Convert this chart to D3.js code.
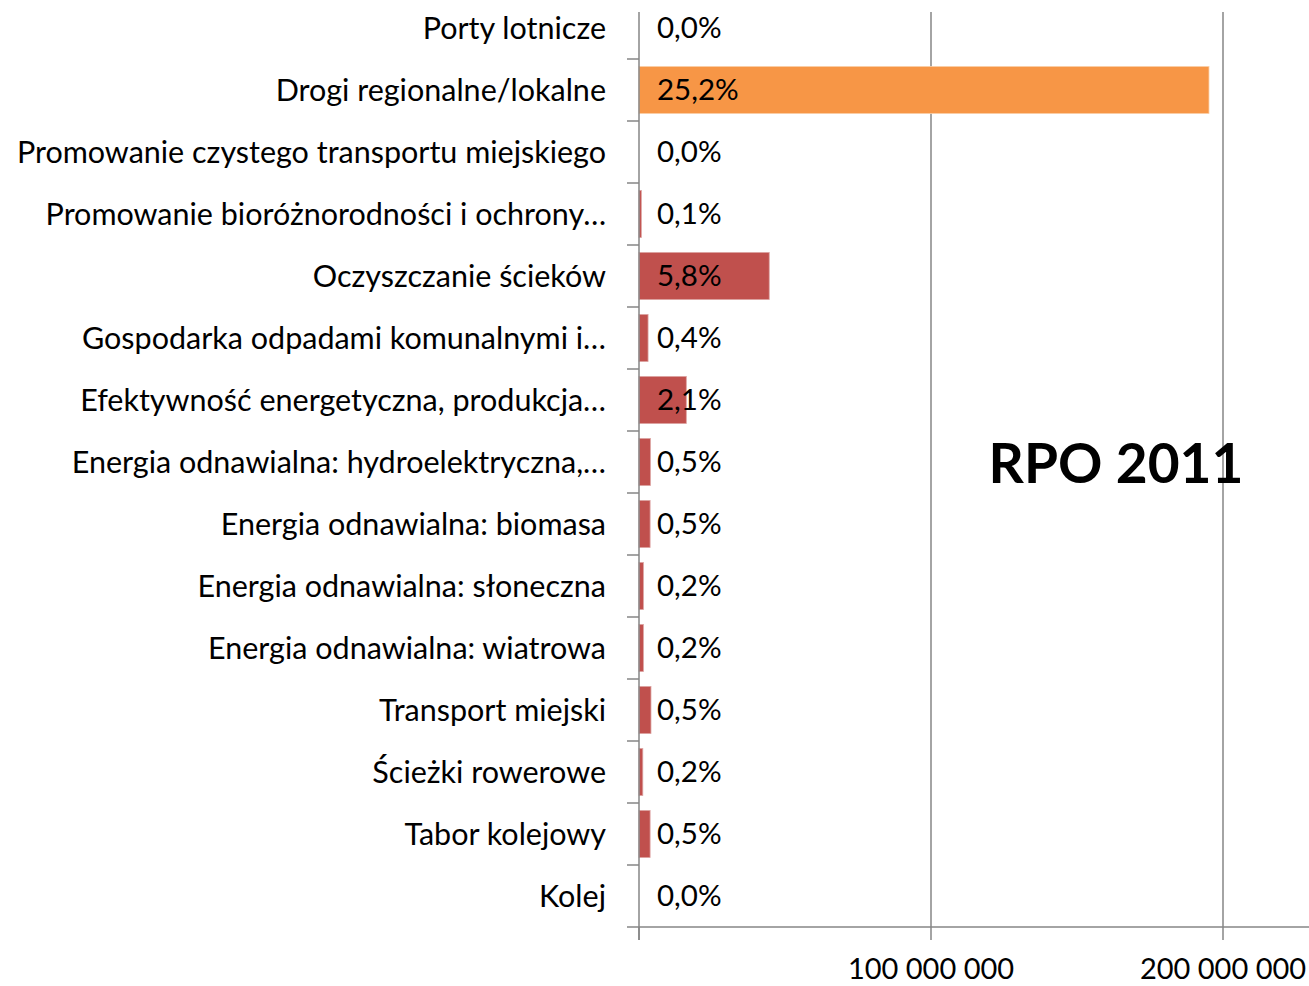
<!DOCTYPE html>
<html>
<head>
<meta charset="utf-8">
<script src="https://cdn.jsdelivr.net/npm/d3@7"></script>
<style>
  body { margin: 0; background: #fff; }
  text { font-family: Lato, "Open Sans", sans-serif; fill: #000; }
</style>
</head>
<body>
<div id="chart"></div>
<script>
// categories top to bottom
const categories = [
  "Porty lotnicze",
  "Drogi regionalne/lokalne",
  "Promowanie czystego transportu miejskiego",
  "Promowanie bioróżnorodności i ochrony…",
  "Oczyszczanie ścieków",
  "Gospodarka odpadami komunalnymi i…",
  "Efektywność energetyczna, produkcja…",
  "Energia odnawialna: hydroelektryczna,…",
  "Energia odnawialna: biomasa",
  "Energia odnawialna: słoneczna",
  "Energia odnawialna: wiatrowa",
  "Transport miejski",
  "Ścieżki rowerowe",
  "Tabor kolejowy",
  "Kolej"
];
// amounts (PLN)
const amounts = [0, 195200000, 0, 800000, 44600000, 3100000, 16200000, 3900000,
  3800000, 1500000, 1500000, 4100000, 1300000, 3800000, 0];
// shares printed on bars
const shares = ["0,0%", "25,2%", "0,0%", "0,1%", "5,8%", "0,4%", "2,1%", "0,5%",
  "0,5%", "0,2%", "0,2%", "0,5%", "0,2%", "0,5%", "0,0%"];
const xTicks = [100000000, 200000000];
const title = "RPO 2011";

const width = 1309, height = 986;
const x0 = 639, plotTop = 12, plotBottom = 927;

const svg = d3.select("#chart").append("svg")
  .attr("width", width)
  .attr("height", height);

const x = d3.scaleLinear().domain([0, 200000000]).range([x0, 1223]);
const y = d3.scaleBand().domain(categories).range([-3, plotBottom])
  .paddingInner(0.24).paddingOuter(0.12);

const fmt = d3.formatLocale({ decimal: ",", thousands: " ", grouping: [3], currency: ["", ""] }).format(",d");

// gridlines
svg.selectAll(".grid").data(xTicks).join("line")
  .attr("x1", d => x(d)).attr("x2", d => x(d))
  .attr("y1", plotTop).attr("y2", plotBottom)
  .attr("stroke", "#868686").attr("stroke-width", 1.5);

// bars
svg.selectAll(".bar").data(categories).join("rect")
  .attr("x", x0)
  .attr("y", d => y(d))
  .attr("width", (d, i) => x(amounts[i]) - x0)
  .attr("height", y.bandwidth())
  .attr("fill", (d, i) => i === 1 ? "#F79646" : "#C0504D")
  .attr("stroke", (d, i) => amounts[i] > 0 ? (i === 1 ? "#fbcfa8" : "#dca3a2") : "none")
  .attr("stroke-width", 0.8);

// x axis
const xAxis = svg.append("g")
  .attr("transform", `translate(0,${plotBottom})`);
xAxis.append("line").attr("x1", 627).attr("x2", width)
  .attr("stroke", "#868686").attr("stroke-width", 1.5);
xAxis.selectAll(".tick").data([0, ...xTicks]).join("line")
  .attr("x1", d => x(d)).attr("x2", d => x(d))
  .attr("y1", 0).attr("y2", 13)
  .attr("stroke", "#868686").attr("stroke-width", 1.5);
xAxis.selectAll(".lbl").data(xTicks).join("text")
  .attr("x", d => x(d)).attr("y", 52)
  .attr("text-anchor", "middle")
  .style("font-size", "29px")
  .text(d => fmt(d));

// y axis
const yAxis = svg.append("g");
yAxis.append("line").attr("x1", x0).attr("x2", x0)
  .attr("y1", plotTop).attr("y2", plotBottom + 13)
  .attr("stroke", "#868686").attr("stroke-width", 1.5);
yAxis.selectAll(".tick").data(categories.slice(1)).join("line")
  .attr("x1", 627).attr("x2", x0)
  .attr("y1", d => y(d) - y.step() * y.paddingInner() / 2)
  .attr("y2", d => y(d) - y.step() * y.paddingInner() / 2)
  .attr("stroke", "#868686").attr("stroke-width", 1.5);
yAxis.selectAll(".lbl").data(categories).join("text")
  .attr("x", 606)
  .attr("y", d => y(d) + y.bandwidth() / 2)
  .attr("dy", "0.35em")
  .attr("text-anchor", "end")
  .style("font-size", "30.5px")
  .text(d => d);

// value labels (inside base)
svg.selectAll(".val").data(categories).join("text")
  .attr("x", x0 + 18)
  .attr("y", d => y(d) + y.bandwidth() / 2)
  .attr("dy", "0.35em")
  .style("font-size", "29.5px")
  .text((d, i) => shares[i]);

svg.append("text")
  .attr("x", 1116).attr("y", 483)
  .attr("text-anchor", "middle")
  .style("font-size", "55px")
  .style("font-weight", "bold")
  .text(title);
</script>
</body>
</html>
